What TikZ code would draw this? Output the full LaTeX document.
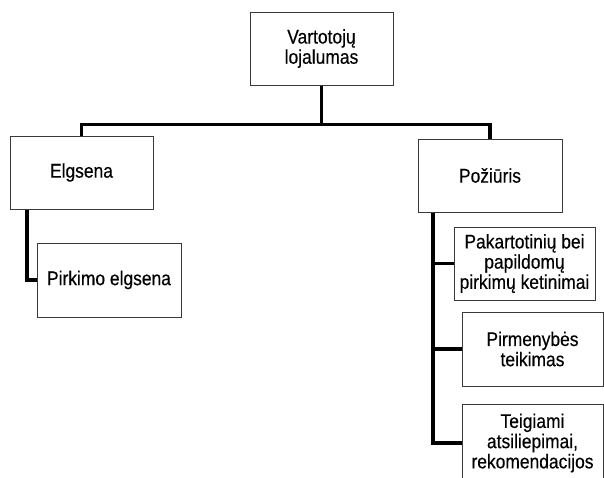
\documentclass[tikz,border=0pt]{standalone}
\usepackage{fontspec}
\setmainfont[FakeStretch=0.88,FakeBold=0.3]{Liberation Sans}
\usetikzlibrary{shadows,backgrounds}
\definecolor{boxline}{HTML}{3A3A3A}
\tikzset{
  box/.style={draw=boxline, line width=1pt, fill=white, align=center, inner sep=0pt,
    font=\fontsize{19.8}{20.2}\selectfont,
    drop shadow={opacity=0.25, shadow xshift=1.3pt, shadow yshift=-1.3pt}},
  conn/.style={line width=3.6pt, draw=black, line join=miter}
}
\begin{document}
\begin{tikzpicture}[x=1pt,y=-1pt]
\useasboundingbox (0,0) rectangle (604,477);
\node[box, minimum width=143, minimum height=73] (top) at (321.5,48.5) {Vartotojų\\lojalumas};
\node[box, minimum width=143, minimum height=73] (elg) at (81.5,172.5) {Elgsena};
\node[box, minimum width=144, minimum height=73] (poz) at (490,175.5) {Požiūris};
\node[box, minimum width=144, minimum height=74] (pirk) at (109,280) {Pirkimo elgsena};
\node[box, minimum width=141, minimum height=73] (pak) at (524.5,263.5) {Pakartotinių bei\\papildomų\\pirkimų ketinimai};
\node[box, minimum width=141, minimum height=74] (pirm) at (532.5,349) {Pirmenybės\\teikimas};
\node[box, minimum width=141, minimum height=78] (teig) at (532.5,443) {Teigiami\\atsiliepimai,\\rekomendacijos};
\coordinate (hb) at (0,124.5);
\coordinate (ev) at (27,0);
\coordinate (pv) at (433,0);
\begin{scope}[on background layer]
\draw[conn] (top.south) -- (top.south |- hb) -| (elg.north);
\draw[conn] (top.south |- hb) -| (poz.north);
\draw[conn] (elg.south -| ev) |- (pirk.west);
\draw[conn] (poz.south -| pv) |- (teig.west);
\draw[conn] (pv |- pak.west) -- (pak.west);
\draw[conn] (pv |- pirm.west) -- (pirm.west);
\end{scope}
\end{tikzpicture}
\end{document}
